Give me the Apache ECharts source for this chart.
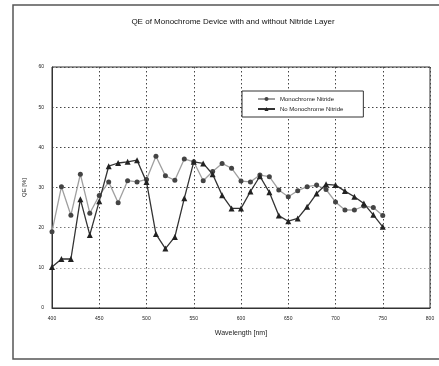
<!DOCTYPE html>
<html>
<head>
<meta charset="utf-8">
<script src="https://cdn.jsdelivr.net/npm/echarts@6/dist/echarts.min.js"></script>
<style>
  html, body { margin: 0; padding: 0; background: #fff; }
  #chart { width: 439px; height: 366px; }
</style>
</head>
<body>
<div id="chart"></div>
<script>
// wavelength in nm, QE in %
const wavelengths = [400, 410, 420, 430, 440, 450, 460, 470, 480, 490,
  500, 510, 520, 530, 540, 550, 560, 570, 580, 590,
  600, 610, 620, 630, 640, 650, 660, 670, 680, 690,
  700, 710, 720, 730, 740, 750];
const withNitride = [19, 30.2, 23.1, 33.3, 23.6, 28, 31.4, 26.2, 31.7, 31.4,
  32, 37.8, 32.9, 31.8, 37.1, 36.4, 31.7, 34, 36, 34.8,
  31.6, 31.4, 33.1, 32.7, 29.4, 27.7, 29.2, 30.2, 30.6, 29.5,
  26.4, 24.4, 24.4, 25.4, 25, 23];
const withoutNitride = [10.2, 12.2, 12.2, 27.1, 18.2, 26.6, 35.3, 36.1, 36.4, 36.8,
  31.4, 18.4, 14.8, 17.7, 27.3, 36.4, 36, 33.3, 28.1, 24.8,
  24.8, 29, 32.8, 28.8, 23, 21.6, 22.3, 25.2, 28.5, 30.8,
  30.6, 29.1, 27.7, 26, 23.2, 20.2];
const seriesNames = ["Monochrome Nitride", "No Monochrome Nitride"];

const chart = echarts.init(document.getElementById("chart"));
const font = "Liberation Sans, Arial, sans-serif";

chart.setOption({
  animation: false,
  textStyle: { fontFamily: font },
  title: {
    text: "QE of Monochrome Device with and without Nitride Layer",
    left: 228,
    textAlign: "center",
    top: 13,
    textStyle: { fontSize: 8, fontWeight: "normal", color: "#111", fontFamily: font },
  },
  graphic: [
    {
      type: "polyline",
      shape: { points: [[439, 5], [13, 5], [13, 359], [439, 359]] },
      style: { stroke: "#555", lineWidth: 1.5, fill: null },
    },
  ],
  legend: {
    orient: "vertical",
    left: 242,
    top: 91,
    width: 123,
    padding: [5, 20, 5, 15],
    itemGap: 4,
    itemWidth: 17,
    itemHeight: 5,
    borderColor: "#333",
    borderWidth: 1,
    backgroundColor: "#fff",
    textStyle: { fontSize: 6, color: "#222", fontFamily: font },
    data: seriesNames,
  },
  grid: { left: 52, right: 9, top: 67, bottom: 58, show: true, borderColor: "#333", borderWidth: 1 },
  xAxis: {
    type: "value",
    min: 400,
    max: 800,
    interval: 50,
    name: "Wavelength [nm]",
    nameLocation: "middle",
    nameGap: 22,
    nameTextStyle: { fontSize: 7, color: "#222" },
    axisLine: { lineStyle: { color: "#333" } },
    axisTick: { show: false },
    axisLabel: { fontSize: 5, color: "#222", margin: 8 },
    splitLine: { lineStyle: { color: "#444", type: [1.5, 2.5], width: 1 } },
  },
  yAxis: {
    type: "value",
    min: 0,
    max: 60,
    interval: 10,
    name: "QE [%]",
    nameLocation: "middle",
    nameRotate: 90,
    nameGap: 18,
    nameTextStyle: { fontSize: 6, color: "#222" },
    axisLine: { show: true, lineStyle: { color: "#333" } },
    axisTick: { show: false },
    axisLabel: { fontSize: 5, color: "#222", margin: 8 },
    splitLine: {
      lineStyle: {
        color: ["#444", "#aaa", "#777", "#444", "#444", "#444", "#444"],
        type: [1.5, 2.5],
        width: 1,
      },
    },
  },
  series: [
    {
      name: seriesNames[0],
      type: "line",
      data: wavelengths.map((w, i) => [w, withNitride[i]]),
      symbol: "circle",
      symbolSize: 5,
      lineStyle: { color: "#a0a0a0", width: 1.3 },
      itemStyle: { color: "#444" },
      z: 3,
    },
    {
      name: seriesNames[1],
      type: "line",
      data: wavelengths.map((w, i) => [w, withoutNitride[i]]),
      symbol: "triangle",
      symbolSize: 6,
      lineStyle: { color: "#333", width: 1.3 },
      itemStyle: { color: "#222" },
      z: 4,
    },
  ],
});
</script>
</body>
</html>
